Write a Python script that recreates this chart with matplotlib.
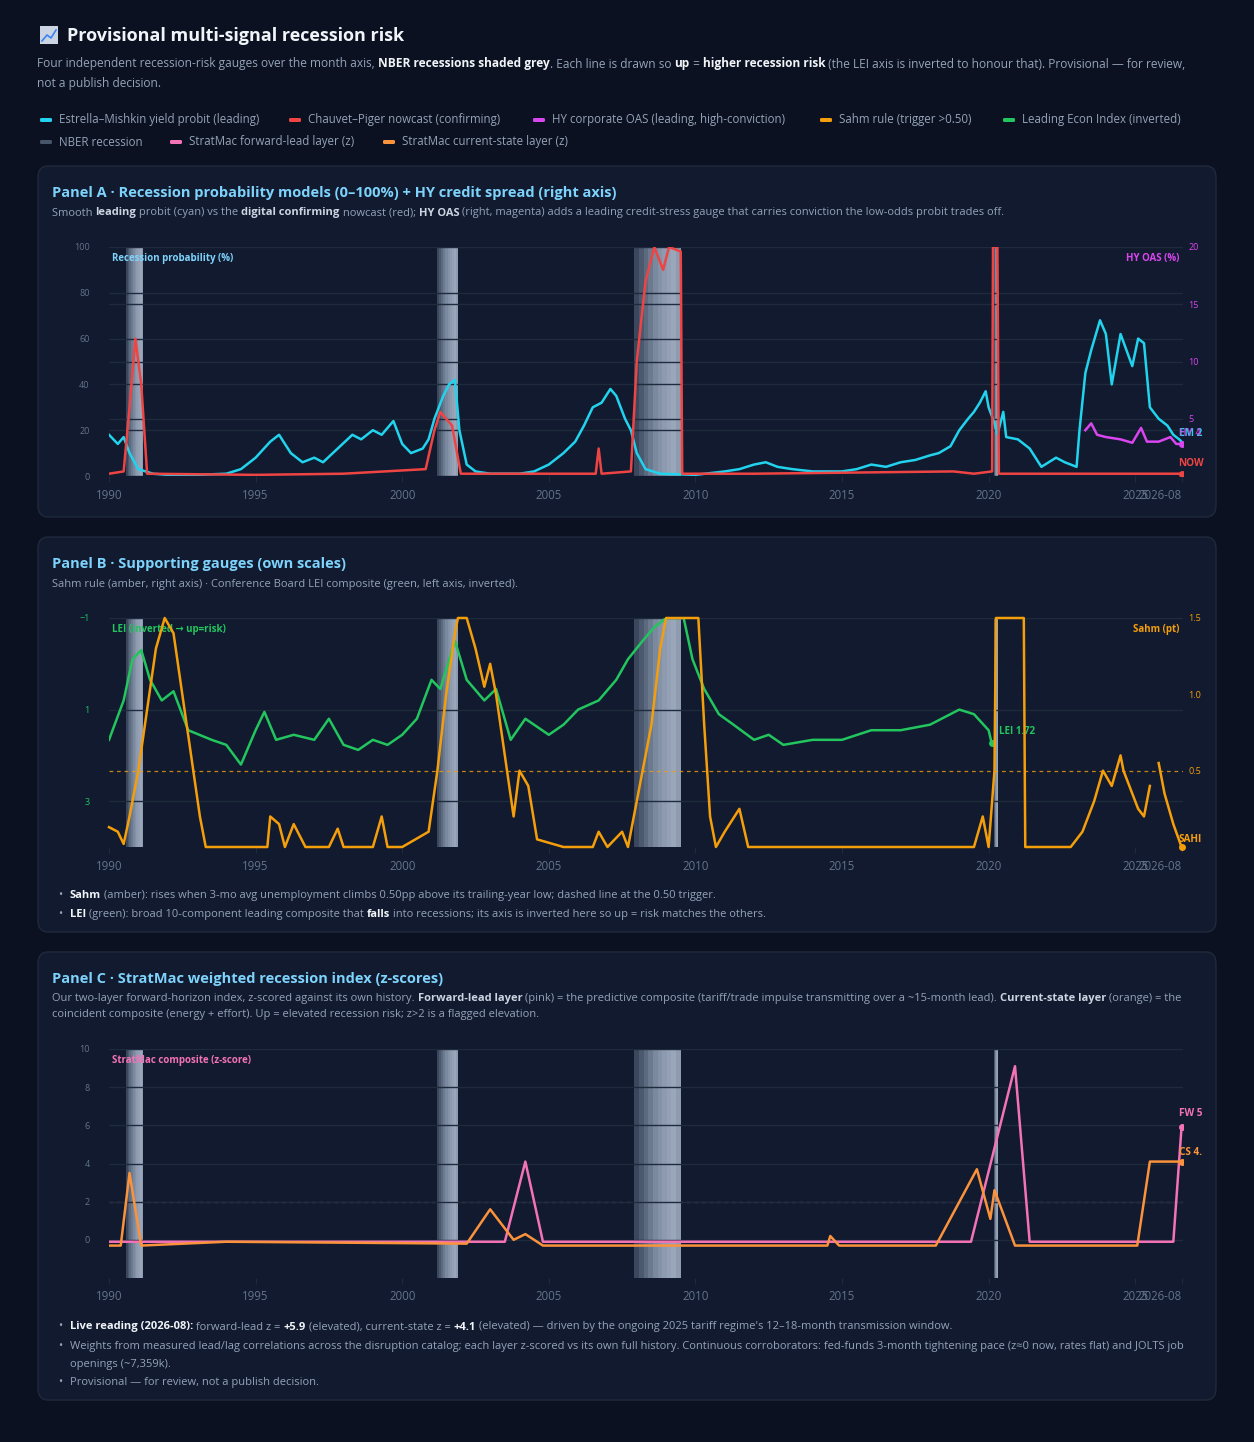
import numpy as np
import matplotlib
matplotlib.use("Agg")
import matplotlib.pyplot as plt
from matplotlib.patches import FancyBboxPatch, Rectangle
from matplotlib.lines import Line2D

W, H = 1254, 1442
plt.rcParams['font.family'] = ['Open Sans', 'DejaVu Sans']

# ---------------- data ----------------
recessions = [(1990.58, 1991.17), (2001.17, 2001.92), (2007.92, 2009.5), (2020.17, 2020.33)]

probit_t = [1990.0, 1990.3, 1990.5, 1990.7, 1991.0, 1991.5, 1992.0, 1993.0, 1994.0, 1994.5, 1995.0, 1995.5, 1995.8,
            1996.2, 1996.6, 1997.0, 1997.3, 1997.8, 1998.3, 1998.6, 1999.0, 1999.3, 1999.7, 2000.0, 2000.3, 2000.7,
            2000.9, 2001.1, 2001.4, 2001.6, 2001.8, 2001.95, 2002.2, 2002.5, 2003.0, 2004.0, 2004.5, 2005.0, 2005.5,
            2005.9, 2006.2, 2006.5, 2006.8, 2007.1, 2007.3, 2007.6, 2007.8, 2008.0, 2008.3, 2008.8, 2010.0, 2011.0,
            2011.5, 2012.0, 2012.4, 2012.8, 2013.3, 2014.0, 2014.5, 2015.0, 2015.5, 2016.0, 2016.5, 2017.0, 2017.5,
            2018.0, 2018.3, 2018.7, 2019.0, 2019.3, 2019.5, 2019.7, 2019.9, 2020.0, 2020.2, 2020.3, 2020.5, 2020.6,
            2021.0, 2021.4, 2021.8, 2022.3, 2022.6, 2023.0, 2023.1, 2023.3, 2023.5, 2023.8, 2024.0, 2024.2, 2024.5,
            2024.7, 2024.9, 2025.1, 2025.3, 2025.5, 2025.8, 2026.1, 2026.3, 2026.5, 2026.58]
probit_v = [18, 14, 17, 10, 3, 1, 0.5, 0.5, 1, 3, 8, 15, 18,
            10, 6, 8, 6, 12, 18, 16, 20, 18, 24, 14, 10, 12,
            16, 25, 35, 40, 42, 20, 5, 2, 1, 1, 2, 5, 10,
            15, 22, 30, 32, 38, 35, 25, 20, 10, 3, 1, 0.5, 2,
            3, 5, 6, 4, 3, 2, 2, 2, 3, 5, 4, 6, 7,
            9, 10, 13, 20, 25, 28, 32, 37, 30, 23, 18, 28, 17,
            16, 12, 4, 8, 6, 4, 20, 45, 55, 68, 62, 40, 62,
            55, 48, 60, 58, 30, 25, 22, 18, 16, 15]

nowcast_t = [1990.0, 1990.5, 1990.7, 1990.9, 1991.1, 1991.3, 1995.0, 1998.0, 2000.8, 2001.1, 2001.3, 2001.7, 2002.0,
             2006.6, 2006.7, 2006.8, 2007.8, 2008.0, 2008.3, 2008.6, 2008.9, 2009.1, 2009.5, 2009.55, 2012.0,
             2018.8, 2019.5, 2020.12, 2020.15, 2020.3, 2020.35, 2022.0, 2024.0, 2025.0, 2026.58]
nowcast_v = [1, 2, 30, 60, 40, 1, 0.5, 1, 3, 20, 28, 22, 1,
             1, 12, 1, 2, 50, 85, 100, 90, 100, 98, 1, 1,
             2, 1, 2, 100, 100, 1, 1, 1, 1, 1]

hy_t = [2023.3, 2023.5, 2023.7, 2024.0, 2024.5, 2024.9, 2025.2, 2025.4, 2025.8, 2026.2, 2026.4, 2026.58]
hy_v = [4.0, 4.6, 3.6, 3.4, 3.2, 2.9, 4.2, 3.0, 3.0, 3.4, 2.8, 2.8]

lei_t = [1990.0, 1990.5, 1990.8, 1991.1, 1991.4, 1991.8, 1992.2, 1992.7, 1993.5, 1994.0, 1994.5, 1995.0, 1995.3,
         1995.7, 1996.3, 1997.0, 1997.5, 1998.0, 1998.5, 1999.0, 1999.5, 2000.0, 2000.5, 2001.0, 2001.3, 2001.8,
         2002.2, 2002.8, 2003.2, 2003.7, 2004.2, 2005.0, 2005.5, 2006.0, 2006.7, 2007.3, 2007.7, 2008.2, 2008.6,
         2009.0, 2009.6, 2009.9, 2010.3, 2010.8, 2011.3, 2012.0, 2012.5, 2013.0, 2014.0, 2015.0, 2016.0, 2017.0,
         2018.0, 2019.0, 2019.5, 2020.0, 2020.1]
lei_v = [1.66, 0.8, -0.1, -0.3, 0.35, 0.8, 0.6, 1.45, 1.66, 1.77, 2.2, 1.45, 1.05,
         1.66, 1.55, 1.66, 1.2, 1.77, 1.88, 1.66, 1.77, 1.55, 1.2, 0.35, 0.55, -0.5,
         0.35, 0.8, 0.55, 1.66, 1.2, 1.55, 1.33, 1.0, 0.8, 0.35, -0.1, -0.5, -0.8,
         -1.0, -1.0, -0.1, 0.55, 1.1, 1.33, 1.66, 1.55, 1.77, 1.66, 1.66, 1.45, 1.45,
         1.33, 1.0, 1.1, 1.45, 1.72]

sahm_t = [1990.0, 1990.3, 1990.5, 1990.7, 1991.0, 1991.3, 1991.6, 1991.9, 1992.2, 1992.5, 1992.8, 1993.1, 1993.3,
          1995.4, 1995.5, 1995.8, 1996.0, 1996.3, 1996.7, 1997.5, 1997.8, 1998.0, 1999.0, 1999.3, 1999.5, 2000.0,
          2000.9, 2001.2, 2001.5, 2001.8, 2001.9, 2002.2, 2002.5, 2002.8, 2003.0, 2003.2, 2003.5, 2003.8, 2004.0,
          2004.3, 2004.6, 2005.5, 2006.5, 2006.7, 2007.0, 2007.5, 2007.7, 2008.0, 2008.5, 2008.8, 2009.0, 2010.1,
          2010.3, 2010.5, 2010.7, 2011.0, 2011.5, 2011.8, 2019.5, 2019.8, 2020.0, 2020.2, 2020.25, 2021.2, 2021.25,
          2022.8, 2023.2, 2023.6, 2023.9, 2024.2, 2024.5, 2024.6, 2024.8, 2025.1, 2025.3, 2025.5, 2025.65,
          2025.8, 2026.0, 2026.3, 2026.58]
sahm_v = [0.13, 0.1, 0.02, 0.2, 0.5, 0.9, 1.3, 1.5, 1.4, 1.0, 0.6, 0.2, 0.0,
          0.0, 0.2, 0.15, 0.0, 0.15, 0.0, 0.0, 0.12, 0.0, 0.0, 0.2, 0.0, 0.0,
          0.1, 0.5, 1.0, 1.4, 1.5, 1.5, 1.3, 1.05, 1.2, 1.0, 0.6, 0.2, 0.5,
          0.4, 0.05, 0.0, 0.0, 0.1, 0.0, 0.1, 0.0, 0.3, 0.8, 1.3, 1.5, 1.5,
          0.8, 0.2, 0.0, 0.1, 0.25, 0.0, 0.0, 0.2, 0.0, 0.5, 1.5, 1.5, 0.0,
          0.0, 0.1, 0.3, 0.5, 0.4, 0.6, 0.5, 0.4, 0.25, 0.2, 0.4, np.nan,
          0.55, 0.35, 0.15, 0.0]

fw_t = [1990.0, 2003.5, 2004.2, 2004.8, 2019.4, 2020.9, 2021.4, 2026.3, 2026.58]
fw_v = [-0.1, -0.1, 4.1, -0.1, -0.1, 9.1, -0.1, -0.1, 5.9]
cs_t = [1990.0, 1990.4, 1990.7, 1991.1, 1994.0, 2002.2, 2003.0, 2003.8, 2004.2, 2004.8, 2014.5, 2014.6, 2014.9,
        2018.2, 2019.6, 2020.06, 2020.2, 2020.9, 2025.07, 2025.5, 2026.58]
cs_v = [-0.3, -0.3, 3.5, -0.3, -0.1, -0.2, 1.6, 0.0, 0.3, -0.3, -0.3, 0.2, -0.3,
        -0.3, 3.7, 1.1, 2.6, -0.3, -0.3, 4.1, 4.1]

year_ticks = [1990, 1995, 2000, 2005, 2010, 2015, 2020, 2025]
end_t = 2026.58

# ---------------- styles ----------------
BG = '#0b1120'; PANEL = '#111a2e'; EDGE = '#1f2a3d'
GRID = '#1f2a3d'; TICK = '#64748b'; BODY = '#94a3b8'; STRONG = '#f1f5f9'
TITLE = '#7dd3fc'
CY = '#22d3ee'; RED = '#ef4444'; MAG = '#d946ef'; AMB = '#f59e0b'; GRN = '#22c55e'
PINK = '#f472b6'; ORG = '#fb923c'; NGREY = '#475569'

fig = plt.figure(figsize=(W / 100, H / 100), dpi=100, facecolor=BG)
R = fig.canvas.get_renderer()


def fx(x): return x / W
def fy(y): return 1 - y / H


def rich(x, y, segs, size=8.6, va='center'):
    for txt, bold, col in segs:
        t = fig.text(fx(x), fy(y), txt, fontsize=size, color=col, va=va, ha='left',
                     fontweight='bold' if bold else 'normal')
        x += t.get_window_extent(R).width
    return x


def panel(y0, y1):
    p = FancyBboxPatch((fx(38), fy(y1)), fx(1216 - 38), (y1 - y0) / H,
                       boxstyle='round,pad=0,rounding_size=0.008', transform=fig.transFigure,
                       facecolor=PANEL, edgecolor=EDGE, lw=1.0, zorder=-5)
    fig.patches.append(p)


# header
fig.patches.append(Rectangle((fx(40), fy(44)), fx(18), 18 / H, transform=fig.transFigure,
                             facecolor='#cbd5e1', edgecolor='none'))
fig.lines.append(Line2D([fx(42), fx(47), fx(51), fx(56)], [fy(41), fy(35), fy(38), fy(30)],
                        transform=fig.transFigure, color='#3b82f6', lw=1.2))
fig.text(fx(67), fy(36), 'Provisional multi-signal recession risk', fontsize=13, fontweight='bold',
         color=STRONG, va='center')
rich(37, 64, [('Four independent recession-risk gauges over the month axis, ', False, BODY),
              ('NBER recessions shaded grey', True, STRONG),
              ('. Each line is drawn so ', False, BODY), ('up', True, STRONG), (' = ', False, BODY),
              ('higher recession risk', True, STRONG),
              (' (the LEI axis is inverted to honour that). Provisional — for review,', False, BODY)])
rich(37, 84, [('not a publish decision.', False, BODY)])

legend_items = [(40, 120, CY, 'Estrella–Mishkin yield probit (leading)'),
                (289, 120, RED, 'Chauvet–Piger nowcast (confirming)'),
                (533, 120, MAG, 'HY corporate OAS (leading, high-conviction)'),
                (820, 120, AMB, 'Sahm rule (trigger >0.50)'),
                (1003, 120, GRN, 'Leading Econ Index (inverted)'),
                (40, 142, NGREY, 'NBER recession'),
                (170, 142, PINK, 'StratMac forward-lead layer (z)'),
                (383, 142, ORG, 'StratMac current-state layer (z)')]
for x, y, c, lab in legend_items:
    fig.patches.append(FancyBboxPatch((fx(x), fy(y + 2)), fx(12), 4 / H, boxstyle='round,pad=0,rounding_size=0.001',
                                      transform=fig.transFigure, facecolor=c, edgecolor='none'))
    fig.text(fx(x + 19), fy(y), lab, fontsize=8.3, color=BODY, va='center')

panel(166, 517)
panel(537, 932)
panel(952, 1400)


def make_ax(top, bot, ylim, yticks, ylabels=None):
    ax = fig.add_axes([fx(109), fy(bot), fx(1183 - 109), (bot - top) / H])
    ax.set_facecolor('none')
    ax.set_xlim(1990, end_t + 0.05)
    ax.set_ylim(*ylim)
    ax.set_yticks(yticks)
    if ylabels is not None:
        ax.set_yticklabels(ylabels)
    ax.set_xticks(year_ticks + [end_t])
    ax.set_xticklabels([str(y) for y in year_ticks] + ['2026-08'])
    for lab in ax.get_xticklabels():
        lab.set_fontsize(8.3)
    ax.get_xticklabels()[-1].set_horizontalalignment('right')
    ax.tick_params(axis='x', colors=TICK, length=4, color=GRID, pad=5)
    ax.tick_params(axis='y', colors=TICK, labelsize=6.5, length=0, pad=14)
    for s in ax.spines.values():
        s.set_visible(False)
    ax.grid(axis='y', color=GRID, lw=1, zorder=2)
    ax.set_axisbelow(False)
    for a, b in recessions:
        n = 10
        edges = np.linspace(a, b, n + 1)
        shades = ['#3b475c', '#4b586d', '#5c6a80', '#6c7a90', '#7b899e', '#8593a8', '#8d9ab0', '#94a1b5', '#9aa6ba', '#8f9cb0']
        for i in range(n):
            ax.axvspan(edges[i], edges[i + 1], color=shades[i], lw=0, zorder=1)
    return ax


# ---------------- Panel A ----------------
fig.text(fx(52), fy(193), 'Panel A · Recession probability models (0–100%) + HY credit spread (right axis)',
         fontsize=10.5, fontweight='bold', color=TITLE, va='center')
rich(52, 213, [('Smooth ', False, BODY), ('leading', True, '#cbd5e1'), (' probit (cyan) vs the ', False, BODY),
               ('digital confirming', True, '#cbd5e1'), (' nowcast (red); ', False, BODY), ('HY OAS', True, '#cbd5e1'),
               (' (right, magenta) adds a leading credit-stress gauge that carries conviction the low-odds probit trades off.',
                False, BODY)], size=8)
axA = make_ax(247, 476, (0, 100), [0, 20, 40, 60, 80, 100])
for y in [5, 10, 15]:
    axA.axhline(y * 5, color=GRID, lw=1, zorder=2)
axA.plot(probit_t, probit_v, color=CY, lw=1.8, zorder=3)
axA.plot(nowcast_t, nowcast_v, color=RED, lw=1.8, zorder=3)
axA.plot([end_t], [nowcast_v[-1]], 'o', color=RED, ms=4, zorder=4)
axA2 = axA.twinx()
axA2.set_ylim(0, 20)
axA2.set_yticks([5, 10, 15, 20])
axA2.tick_params(axis='y', colors=MAG, labelsize=6.5, length=0, pad=4)
for s in axA2.spines.values():
    s.set_visible(False)
axA2.plot(hy_t, hy_v, color=MAG, lw=1.8, zorder=3)
axA2.plot([end_t], [hy_v[-1]], 'o', color=MAG, ms=4, zorder=4)
axA.text(0.003, 0.95, 'Recession probability (%)', transform=axA.transAxes, color=TITLE, fontsize=7,
         fontweight='bold', va='center', zorder=6)
axA.text(0.997, 0.95, 'HY OAS (%)', transform=axA.transAxes, color=MAG, fontsize=7, fontweight='bold',
         va='center', ha='right')
axA.text(end_t - 0.1, 18.5, 'EM 2', color=CY, fontsize=7.2, fontweight='bold', va='center', clip_on=False)
axA.text(end_t - 0.1, 18.5, 'HY 4', color=MAG, fontsize=7.2, fontweight='bold', va='center', clip_on=False, alpha=0.7)
axA.text(end_t - 0.1, 5.5, 'NOW', color=RED, fontsize=7.2, fontweight='bold', va='center', clip_on=False)

# ---------------- Panel B ----------------
fig.text(fx(52), fy(564), 'Panel B · Supporting gauges (own scales)', fontsize=10.5, fontweight='bold',
         color=TITLE, va='center')
fig.text(fx(52), fy(584), 'Sahm rule (amber, right axis) · Conference Board LEI composite (green, left axis, inverted).',
         fontsize=8, color=BODY, va='center')
axB = make_ax(618, 847, (4, -1), [-1, 1, 3])
axB.tick_params(axis='y', colors=GRN)
axB.plot(lei_t, lei_v, color=GRN, lw=1.8, zorder=3)
axB.plot([lei_t[-1]], [lei_v[-1]], 'o', color=GRN, ms=4, zorder=4)
axB.text(lei_t[-1] + 0.25, lei_v[-1] - 0.25, 'LEI 1.72', color=GRN, fontsize=7, fontweight='bold', va='center')
axB2 = axB.twinx()
axB2.set_ylim(0, 1.5)
axB2.set_yticks([0.5, 1.0, 1.5])
axB2.set_yticklabels(['0.5', '1.0', '1.5'])
axB2.tick_params(axis='y', colors=AMB, labelsize=6.5, length=0, pad=4)
for s in axB2.spines.values():
    s.set_visible(False)
axB2.axhline(0.5, color=AMB, lw=0.9, ls=(0, (3, 3)), alpha=0.8)
axB2.plot(sahm_t, sahm_v, color=AMB, lw=1.8, zorder=3, clip_on=False)
axB2.plot([end_t], [sahm_v[-1]], 'o', color=AMB, ms=4, zorder=4, clip_on=False)
axB2.text(end_t - 0.1, 0.05, 'SAHI', color=AMB, fontsize=7.2, fontweight='bold', va='center', clip_on=False)
axB.text(0.003, 0.95, 'LEI (inverted → up=risk)', transform=axB.transAxes, color=GRN, fontsize=7,
         fontweight='bold', va='center', zorder=6)
axB.text(0.997, 0.95, 'Sahm (pt)', transform=axB.transAxes, color=AMB, fontsize=7, fontweight='bold',
         va='center', ha='right')
for yy, segs in [(896, [('Sahm', True, STRONG), (' (amber): rises when 3-mo avg unemployment climbs 0.50pp above its trailing-year low; dashed line at the 0.50 trigger.', False, BODY)]),
                 (914, [('LEI', True, STRONG), (' (green): broad 10-component leading composite that ', False, BODY), ('falls', True, STRONG), (' into recessions; its axis is inverted here so up = risk matches the others.', False, BODY)])]:
    fig.text(fx(58), fy(yy), '•', color=BODY, fontsize=8, va='center')
    rich(70, yy, segs, size=8)

# ---------------- Panel C ----------------
fig.text(fx(52), fy(979), 'Panel C · StratMac weighted recession index (z-scores)', fontsize=10.5,
         fontweight='bold', color=TITLE, va='center')
rich(52, 999, [('Our two-layer forward-horizon index, z-scored against its own history. ', False, BODY),
               ('Forward-lead layer', True, '#cbd5e1'),
               (' (pink) = the predictive composite (tariff/trade impulse transmitting over a ~15-month lead). ', False, BODY),
               ('Current-state layer', True, '#cbd5e1'), (' (orange) = the', False, BODY)], size=8)
rich(52, 1015, [('coincident composite (energy + effort). Up = elevated recession risk; z>2 is a flagged elevation.', False, BODY)], size=8)
axC = make_ax(1049, 1278, (-2, 10), [0, 2, 4, 6, 8, 10])
axC.axhline(2, color='#9f7aa0', lw=0.9, ls=(0, (3, 3)), alpha=0.8, zorder=2)
axC.plot(fw_t, fw_v, color=PINK, lw=1.8, zorder=3)
axC.plot(cs_t, cs_v, color=ORG, lw=1.8, zorder=3)
axC.plot([end_t], [fw_v[-1]], 'o', color=PINK, ms=4, zorder=4)
axC.plot([end_t], [cs_v[-1]], 'o', color=ORG, ms=4, zorder=4)
axC.text(end_t - 0.1, 6.6, 'FW 5', color=PINK, fontsize=7.2, fontweight='bold', va='center', clip_on=False)
axC.text(end_t - 0.1, 4.6, 'CS 4.', color=ORG, fontsize=7.2, fontweight='bold', va='center', clip_on=False)
axC.text(0.003, 0.95, 'StratMac composite (z-score)', transform=axC.transAxes, color=PINK, fontsize=7,
         fontweight='bold', va='center', zorder=6)
for yy, segs in [(1327, [('Live reading (2026-08):', True, STRONG), (' forward-lead z = ', False, BODY), ('+5.9', True, STRONG),
                         (' (elevated), current-state z = ', False, BODY), ('+4.1', True, STRONG),
                         (' (elevated) — driven by the ongoing 2025 tariff regime\'s 12–18-month transmission window.', False, BODY)]),
                 (1346, [('Weights from measured lead/lag correlations across the disruption catalog; each layer z-scored vs its own full history. Continuous corroborators: fed-funds 3-month tightening pace (z≈0 now, rates flat) and JOLTS job', False, BODY)]),
                 (1382, [('Provisional — for review, not a publish decision.', False, BODY)])]:
    fig.text(fx(58), fy(yy), '•', color=BODY, fontsize=8, va='center')
    rich(70, yy, segs, size=8)
rich(70, 1364, [('openings (~7,359k).', False, BODY)], size=8)

fig.savefig('out.png', dpi=100, facecolor=BG)
